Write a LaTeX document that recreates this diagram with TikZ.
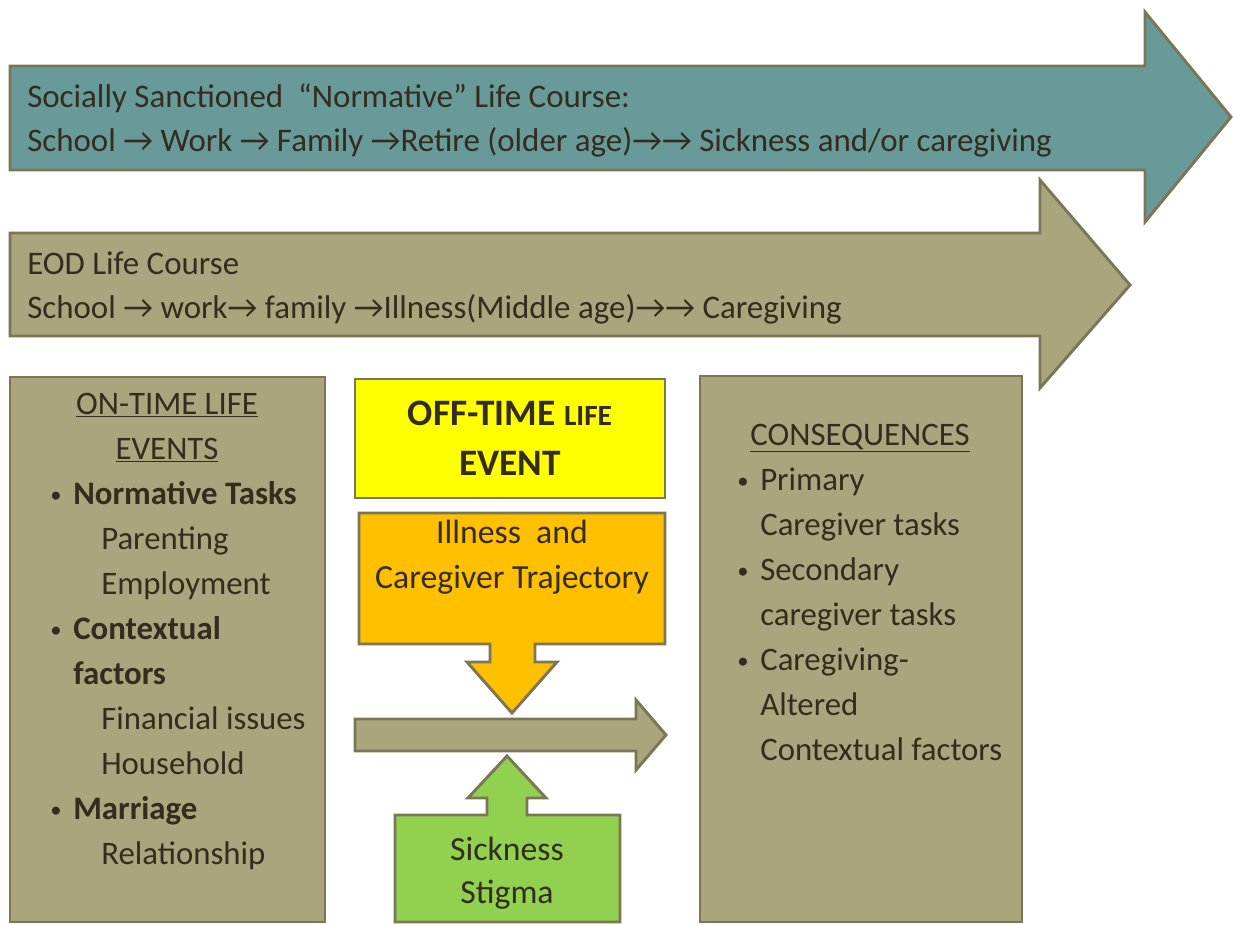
\documentclass[tikz,border=0pt]{standalone}
\usepackage{fontspec}
\setmainfont{Carlito}
\usetikzlibrary{positioning}
\definecolor{lcTeal}{HTML}{679A98}
\definecolor{lcOlive}{HTML}{A9A57C}
\definecolor{lcRule}{HTML}{7B7655}
\definecolor{lcInk}{HTML}{332C1F}
\definecolor{lcYellow}{HTML}{FFFF00}
\definecolor{lcOrange}{HTML}{FFC000}
\definecolor{lcGreen}{HTML}{92D050}
% bullet and indents of the list boxes
\newcommand{\lcbul}{\makebox[17.25pt][l]{\raisebox{1.5pt}{\fontsize{17}{17}\selectfont •}}}
\newcommand{\lcsub}{\hspace*{38.25pt}}
\newcommand{\lcgap}{\hspace*{17.25pt}}

\begin{document}
\begin{tikzpicture}[x=0.75pt,y=-0.75pt,
  blk/.style={draw=lcRule,line width=2.2pt,line join=miter},
  txt/.style={text=lcInk,inner sep=0pt,font=\fontsize{24.6}{33.75}\selectfont},
  lane/.style={txt,anchor=base west,align=left,font=\fontsize{24.7}{33}\selectfont}]
\useasboundingbox (0,0) rectangle (1233,925);

% life course arrows (text nodes sit on the baseline of their last line)
\draw[blk,fill=lcTeal] (10,66) -- (1145,66) -- (1145,12) -- (1231,117)
  -- (1145,222) -- (1145,170) -- (10,170) -- cycle;
\draw[blk,fill=lcOlive] (10,233) -- (1040,233) -- (1040,180) -- (1130,285)
  -- (1040,388) -- (1040,336) -- (10,336) -- cycle;
\node[lane] (normative) at (27,151)
  {Socially Sanctioned \ “Normative” Life Course:\\
   School → Work → Family →Retire (older age)→→ Sickness and/or caregiving};
\node[lane] (eod) at (27,318)
  {EOD Life Course\\
   School → work→ family →Illness(Middle age)→→ Caregiving};

% on-time events
\draw[blk,fill=lcOlive] (10,377) rectangle (325,922);
\node[txt,anchor=base,align=center] (ontime) at (167,459)
  {\underline{ON-TIME LIFE}\\ \underline{EVENTS}};
\node[txt,anchor=base west,align=left] (ontasks) at (50,864)
  {\lcbul\textbf{Normative Tasks}\\
   \lcsub Parenting\\
   \lcsub Employment\\
   \lcbul\textbf{Contextual}\\
   \lcgap\textbf{factors}\\
   \lcsub Financial issues\\
   \lcsub Household\\
   \lcbul\textbf{Marriage}\\
   \lcsub Relationship};

% off-time event
\draw[blk,fill=lcYellow] (355,379) rectangle (665,498);
\node[txt,anchor=base,align=center,font=\bfseries\fontsize{28}{37.5}\selectfont] (offtime) at (510,475)
  {OFF-TIME {\fontsize{22}{22}\selectfont LIFE}\\ EVENT};
\draw[blk,fill=lcOrange] (359,513) -- (665,513) -- (665,644) -- (535,644)
  -- (535,662) -- (557,662) -- (512,713) -- (467,662) -- (490,662)
  -- (490,644) -- (359,644) -- cycle;
\node[txt,anchor=base,align=center,font=\fontsize{25.3}{33.75}\selectfont] (illness) at (512,588)
  {Illness \ and\\ Caregiver Trajectory};
\draw[blk,fill=lcOlive] (355,719) -- (636,719) -- (636,700) -- (666,735)
  -- (636,770) -- (636,751) -- (355,751) -- cycle;
\draw[blk,fill=lcGreen] (395,922) -- (395,815) -- (487,815) -- (487,798)
  -- (468,798) -- (507,756) -- (546,798) -- (527,798) -- (527,815)
  -- (620,815) -- (620,922) -- cycle;
\node[txt,anchor=base,align=center,font=\fontsize{25.3}{32.25}\selectfont] (stigma) at (507,903)
  {Sickness\\ Stigma};

% consequences
\draw[blk,fill=lcOlive] (700,376) rectangle (1022,922);
\node[txt,anchor=base] (conseq) at (860,445) {\underline{CONSEQUENCES}};
\node[txt,anchor=base west,align=left] (contasks) at (737,760)
  {\lcbul Primary\\
   \lcgap Caregiver tasks\\
   \lcbul Secondary\\
   \lcgap caregiver tasks\\
   \lcbul Caregiving-\\
   \lcgap Altered\\
   \lcgap Contextual\ factors};
\end{tikzpicture}
\end{document}
